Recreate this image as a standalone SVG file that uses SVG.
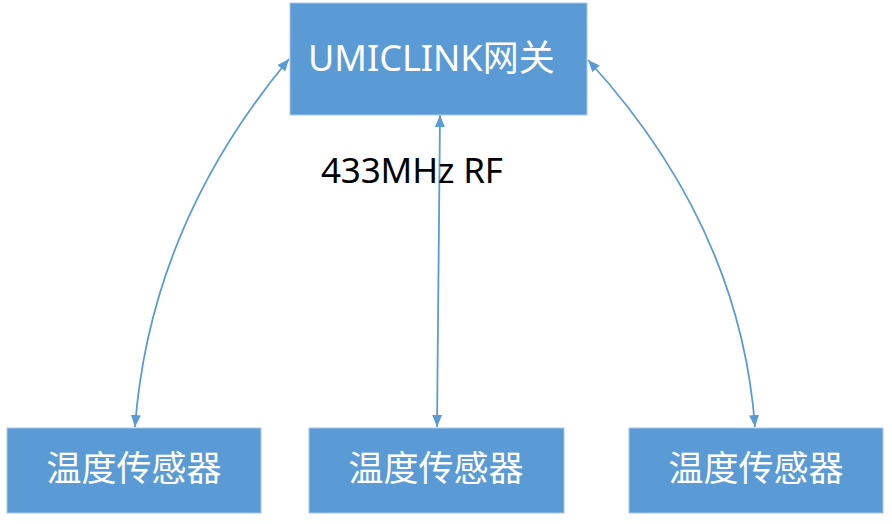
<svg xmlns="http://www.w3.org/2000/svg" width="892" height="524" viewBox="0 0 892 524">
<defs>
<style>
.box{fill:#5B9BD5;stroke:#A9C8E8;stroke-width:1}
.lbl{font-family:"Noto Sans","Noto Sans CJK SC",sans-serif;fill:#FFFFFF}
.cjk{font-family:"Noto Sans CJK SC","Noto Sans",sans-serif;fill:#FFFFFF;font-size:35px;text-anchor:middle}
.edge{fill:none;stroke:#5B9BD5;stroke-width:1.8}
.note{font-family:"Noto Sans","Noto Sans CJK SC",sans-serif;fill:#000000;font-size:35px}
</style>
<marker id="ah" viewBox="0 0 12 10" refX="12" refY="5" markerWidth="12" markerHeight="10" markerUnits="userSpaceOnUse" orient="auto-start-reverse">
<path d="M0,0 L12,5 L0,10 Z" fill="#5B9BD5"/>
</marker>
</defs>
<rect width="892" height="524" fill="#FFFFFF"/>
<g id="connectors">
<path class="edge" d="M135,427 Q150,226 289,59" marker-start="url(#ah)" marker-end="url(#ah)"/>
<path class="edge" d="M437,427 L440,115" marker-start="url(#ah)" marker-end="url(#ah)"/>
<path class="edge" d="M755,427 Q740,226 588,60" marker-start="url(#ah)" marker-end="url(#ah)"/>
</g>
<g id="gateway">
<rect class="box" x="290" y="3" width="297" height="112"/>
<text class="lbl" x="308" y="71" font-size="36">UMICLINK网关</text>
</g>
<g id="sensor1">
<rect class="box" x="7" y="428" width="254" height="85"/>
<text class="cjk" x="134" y="481">温度传感器</text>
</g>
<g id="sensor2">
<rect class="box" x="309" y="428" width="255" height="85"/>
<text class="cjk" x="436" y="481">温度传感器</text>
</g>
<g id="sensor3">
<rect class="box" x="629" y="428" width="254" height="85"/>
<text class="cjk" x="756" y="481">温度传感器</text>
</g>
<g id="rf-label">
<text class="note" x="321" y="183" textLength="182">433MHz RF</text>
</g>
</svg>
